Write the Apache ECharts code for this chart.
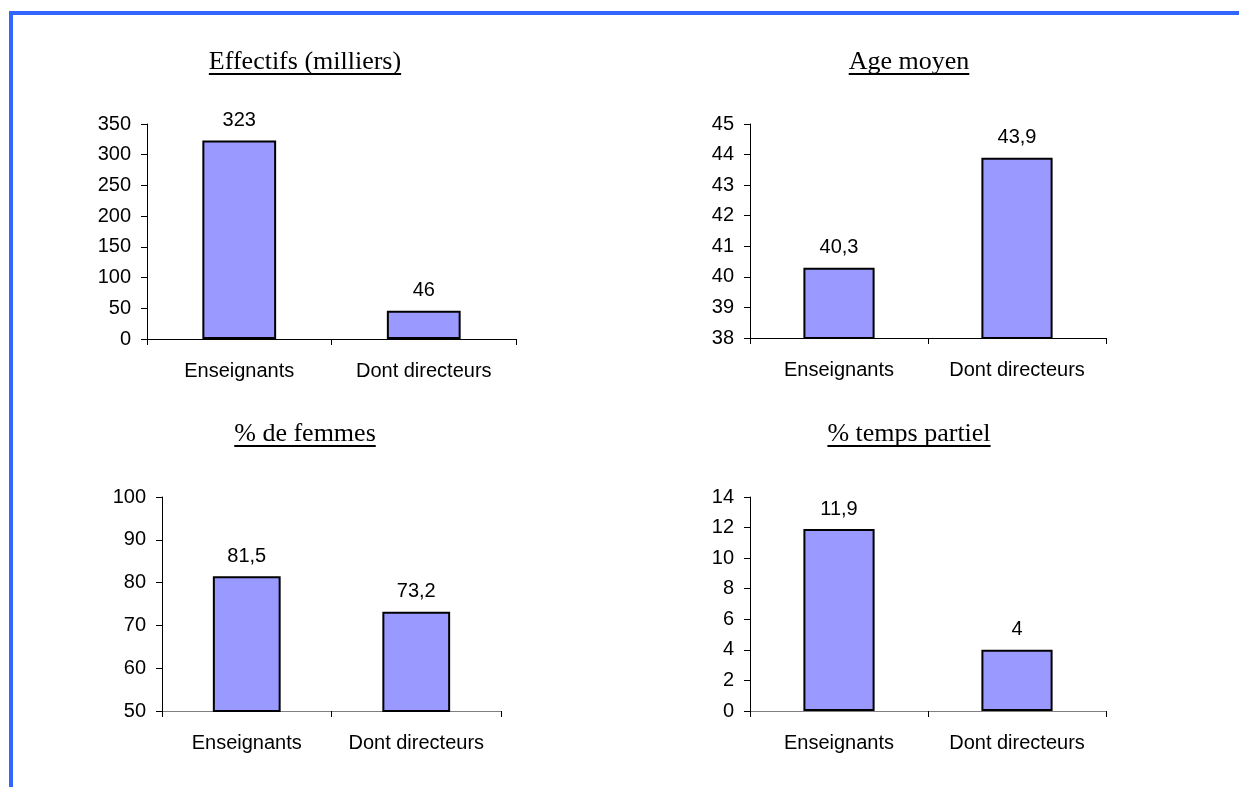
<!DOCTYPE html>
<html>
<head>
<meta charset="utf-8">
<script src="https://cdn.jsdelivr.net/npm/echarts@6/dist/echarts.min.js"></script>
<style>
html,body{margin:0;padding:0;background:#fff;}
#c{width:1239px;height:787px;}
</style>
</head>
<body>
<div id="c"></div>
<script>
// ---- data ----
const categories = ['Enseignants', 'Dont directeurs'];
const titles = ['Effectifs (milliers)', 'Age moyen', '% de femmes', '% temps partiel'];
const effectifs = [323, 46];
const ageMoyen = [40.3, 43.9];
const pctFemmes = [81.5, 73.2];
const pctTempsPartiel = [11.9, 4];
const yMin = [0, 38, 50, 0];
const yMax = [350, 45, 100, 14];
const yInterval = [50, 1, 10, 2];

const seriesData = [effectifs, ageMoyen, pctFemmes, pctTempsPartiel];

// ---- layout ----
const grids = [
  {left: 147, top: 124, width: 369, height: 215},
  {left: 750, top: 124, width: 356, height: 214},
  {left: 162, top: 497, width: 339, height: 214},
  {left: 750, top: 497, width: 356, height: 214}
];
const titlePos = [[305, 62], [909, 62], [305, 434], [909, 434]];
const xLineColor = ['#000', '#000', '#808080', '#808080'];

const sansFont = '"Liberation Sans", Arial, sans-serif';
const serifFont = '"Liberation Serif", "Times New Roman", serif';
const titleSize = 26;
const labelSize = 20;

function textWidth(t, font) {
  const cv = document.createElement('canvas');
  const ctx = cv.getContext('2d');
  ctx.font = font;
  return ctx.measureText(t).width;
}

const graphic = [
  {type: 'rect', shape: {x: 9, y: 11, width: 1230, height: 4}, style: {fill: '#3366ff'}, silent: true},
  {type: 'rect', shape: {x: 9, y: 11, width: 4, height: 776}, style: {fill: '#3366ff'}, silent: true}
];
titles.forEach((t, i) => {
  const [cx, cy] = titlePos[i];
  const w = textWidth(t, titleSize + 'px ' + serifFont);
  graphic.push({
    type: 'text', x: cx, y: cy, silent: true,
    style: {text: t, font: titleSize + 'px ' + serifFont, fill: '#000', align: 'center', verticalAlign: 'middle'}
  });
  graphic.push({
    type: 'line', silent: true,
    shape: {x1: cx - w / 2, y1: cy + 12, x2: cx + w / 2, y2: cy + 12},
    style: {stroke: '#000', lineWidth: 2}
  });
});

const option = {
  backgroundColor: '#fff',
  animation: false,
  grid: grids,
  xAxis: grids.map((g, i) => ({
    type: 'category', gridIndex: i, data: categories,
    axisLine: {lineStyle: {color: xLineColor[i], width: 1}},
    axisTick: {show: true, length: 6, lineStyle: {color: '#000'}},
    axisLabel: {color: '#000', fontSize: labelSize, fontFamily: sansFont, margin: 22, interval: 0},
    splitLine: {show: false}
  })),
  yAxis: grids.map((g, i) => ({
    type: 'value', gridIndex: i, min: yMin[i], max: yMax[i], interval: yInterval[i],
    axisLine: {show: true, lineStyle: {color: '#000', width: 1}},
    axisTick: {show: true, length: 6, lineStyle: {color: '#000'}},
    axisLabel: {color: '#000', fontSize: labelSize, fontFamily: sansFont, margin: 16},
    splitLine: {show: false}
  })),
  series: seriesData.map((d, i) => ({
    type: 'bar', xAxisIndex: i, yAxisIndex: i, data: d,
    barWidth: '40%',
    itemStyle: {color: '#9999ff', borderColor: '#000', borderWidth: 2},
    label: {
      show: true, position: 'top', distance: 10,
      color: '#000', fontSize: labelSize, fontFamily: sansFont,
      formatter: p => String(p.value).replace('.', ',')
    }
  })),
  graphic: graphic
};

const chart = echarts.init(document.getElementById('c'), null, {renderer: 'canvas'});
chart.setOption(option);
</script>
</body>
</html>
